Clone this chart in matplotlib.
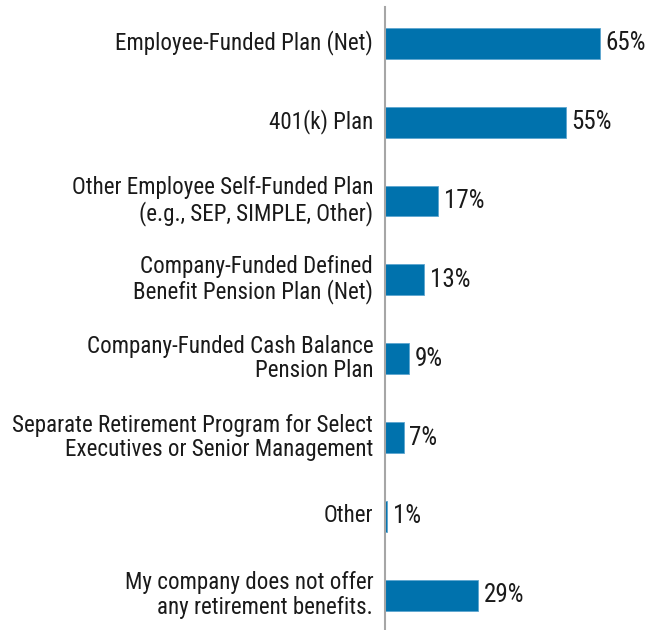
import matplotlib
matplotlib.use("Agg")
import matplotlib.pyplot as plt
from matplotlib.transforms import ScaledTranslation

categories = [
    "Employee-Funded Plan (Net)",
    "401(k) Plan",
    "Other Employee Self-Funded Plan\n(e.g., SEP, SIMPLE, Other)",
    "Company-Funded Defined\nBenefit Pension Plan (Net)",
    "Company-Funded Cash Balance\nPension Plan",
    "Separate Retirement Program for Select\nExecutives or Senior Management",
    "Other",
    "My company does not offer\nany retirement benefits.",
]
# bar lengths (percent)
values = [65.2, 54.8, 16.1, 11.9, 7.4, 5.7, 0.7, 28.3]
value_labels = ["65%", "55%", "17%", "13%", "9%", "7%", "1%", "29%"]

plt.rcParams['font.family'] = ['Roboto Condensed', 'DejaVu Sans']

fig = plt.figure(figsize=(6.47, 6.30), dpi=100)
ax = fig.add_axes([385/647, 0, 1 - 385/647, 1 - 7/630])

bar_color = "#0072AD"
ypos = list(range(len(categories)))
ax.barh(ypos, values, height=0.39, color=bar_color, edgecolor="#5DA5D0", linewidth=0.6)
ax.set_ylim(7.44, -0.46)
ax.set_xlim(0, 262/3.3)

ax.set_yticks(ypos)
ax.set_yticklabels(categories, fontsize=16.6, color="#1a1a1a", linespacing=1.07)
ax.tick_params(axis='y', length=0, pad=8.5)
ax.set_xticks([])
shift = ScaledTranslation(0, 3.5/100, fig.dpi_scale_trans)
for t in ax.get_yticklabels():
    t.set_transform(t.get_transform() + shift)

for s in ["top", "right", "bottom"]:
    ax.spines[s].set_visible(False)
ax.spines["left"].set_color("#A6A6A6")
ax.spines["left"].set_linewidth(1.5)

for y, v, lab in zip(ypos, values, value_labels):
    ax.annotate(lab, (v, y), xytext=(4, 0), textcoords="offset points",
                va="center", ha="left", fontsize=18, color="#1a1a1a")

fig.savefig("out.png", dpi=100)
